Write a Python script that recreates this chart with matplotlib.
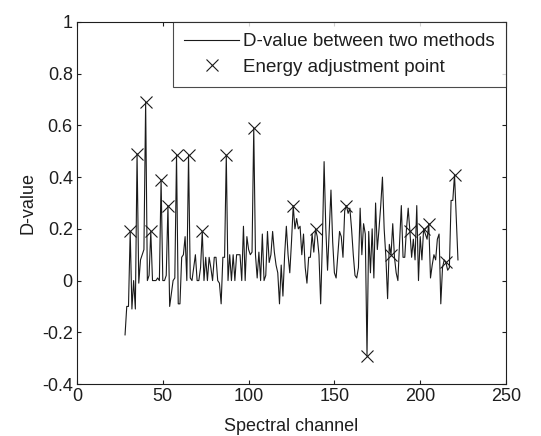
import matplotlib
matplotlib.use("Agg")
import matplotlib.pyplot as plt
import numpy as np

# Spectral channels (28..222) and D-value
channel_start = 28
d_values = [
    -0.21, -0.10, -0.10, 0.19, -0.11, 0.00, -0.11, 0.49, -0.01, 0.08,   # 28-37
    0.10, 0.12, 0.69, 0.00, 0.02, 0.19, 0.00, 0.00, 0.00, 0.01,          # 38-47
    0.00, 0.39, 0.00, 0.00, 0.02, 0.29, -0.10, -0.05, 0.00, 0.01,        # 48-57
    0.485, -0.09, -0.09, 0.09, 0.10, 0.17, 0.00, 0.485, 0.01, 0.00,      # 58-67
    0.05, 0.10, 0.00, 0.00, 0.05, 0.19, 0.00, 0.09, 0.00, 0.09,          # 68-77
    0.05, 0.00, 0.09, 0.09, 0.00, -0.01, -0.09, 0.09, 0.09, 0.485,       # 78-87
    0.00, 0.10, 0.00, 0.10, 0.00, 0.10, 0.10, 0.10, 0.00, 0.21,          # 88-97
    0.00, 0.17, 0.12, 0.10, 0.11, 0.59, 0.10, 0.01, 0.11, 0.00,          # 98-107
    0.18, 0.00, 0.02, 0.19, 0.07, 0.10, 0.19, 0.11, 0.06, 0.03,          # 108-117
    -0.09, 0.06, -0.06, 0.10, 0.21, 0.10, 0.03, 0.15, 0.29, 0.20,        # 118-127
    0.24, 0.20, 0.21, 0.10, 0.18, 0.05, -0.01, 0.09, 0.09, 0.18,         # 128-137
    0.11, 0.20, 0.17, 0.10, -0.09, 0.15, 0.46, 0.20, 0.04, 0.20,         # 138-147
    0.35, 0.15, 0.03, 0.01, 0.10, 0.19, 0.17, 0.09, 0.27, 0.29,          # 148-157
    0.26, 0.28, 0.20, 0.10, 0.02, 0.01, 0.05, 0.28, 0.10, 0.22,          # 158-167
    0.18, -0.29, 0.19, 0.03, 0.20, 0.01, 0.30, 0.12, 0.20, 0.29,         # 168-177
    0.40, 0.20, 0.09, -0.07, 0.14, 0.10, 0.22, 0.09, 0.03, 0.00,         # 178-187
    0.15, 0.29, 0.09, 0.09, 0.20, 0.28, 0.19, 0.09, 0.16, 0.08,          # 188-197
    0.29, 0.00, 0.17, 0.08, 0.20, 0.18, 0.16, 0.22, 0.01, 0.06,          # 198-207
    0.10, 0.08, 0.16, 0.18, -0.09, 0.05, 0.08, 0.07, 0.04, 0.05,         # 208-217
    0.31, 0.31, 0.41, 0.25, 0.08,                                        # 218-222
]
channels = list(range(channel_start, channel_start + len(d_values)))

# Energy adjustment points (channels on the curve)
adjust_channels = [31, 35, 40, 43, 49, 53, 58, 65, 73, 87, 103, 126, 139,
                   157, 169, 183, 194, 202, 205, 215, 220]

x_ticks = [0, 50, 100, 150, 200, 250]
y_ticks = [-0.4, -0.2, 0, 0.2, 0.4, 0.6, 0.8, 1]
y_tick_labels = ["-0.4", "-0.2", "0", "0.2", "0.4", "0.6", "0.8", "1"]

plt.rcParams['font.family'] = ['Liberation Sans', 'DejaVu Sans']
fs = 13
txt = '#1e1e1e'

fig = plt.figure(figsize=(5.41, 4.36), dpi=100)
ax = fig.add_axes([77/541, 1 - 384/436, (506-77)/541, (384-22)/436])

ch_arr = np.array(channels)
val_arr = np.array(d_values)
adj_idx = [channels.index(c) for c in adjust_channels]

ax.plot(ch_arr, val_arr, color='#1a1a1a', lw=0.8, label='D-value between two methods')
ax.plot(ch_arr[adj_idx], val_arr[adj_idx], linestyle='none', marker='x',
        ms=9, mew=0.8, color='#1a1a1a', label='Energy adjustment point')

ax.set_xlim(0, 250)
ax.set_ylim(-0.4, 1)
ax.set_xticks(x_ticks)
ax.set_yticks(y_ticks)
ax.set_yticklabels(y_tick_labels)
ax.tick_params(direction='in', length=3, width=0.8, top=True, right=True,
               labelsize=fs, colors='#1e1e1e', labelcolor=txt, pad=3)
for s in ax.spines.values():
    s.set_linewidth(0.8)
    s.set_color('#1e1e1e')

ax.set_xlabel('Spectral channel', fontsize=fs, color=txt, labelpad=9.5)
ax.set_ylabel('D-value', fontsize=fs, color=txt, labelpad=4)

leg = ax.legend(loc='upper right', fontsize=13.5, frameon=True, fancybox=False,
                borderaxespad=0, handlelength=2.95, handletextpad=0.2,
                borderpad=0.6, labelspacing=0.45, edgecolor='#1e1e1e')
leg.get_frame().set_linewidth(0.8)
for t in leg.get_texts():
    t.set_color(txt)

fig.savefig('out.png', dpi=100)
